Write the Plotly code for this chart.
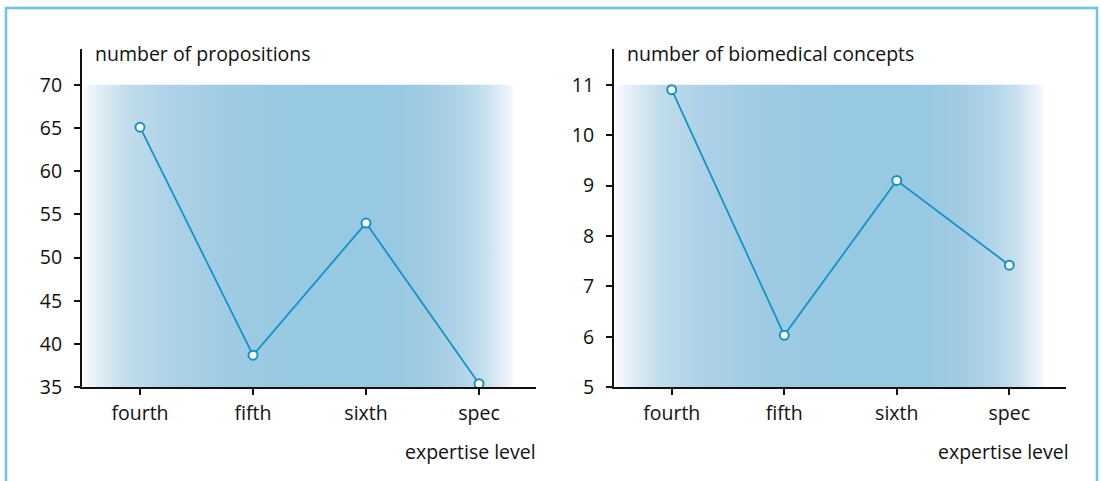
import plotly.graph_objects as go

categories = ["fourth", "fifth", "sixth", "spec"]
propositions = [65.1, 38.7, 54.0, 35.4]
concepts = [10.9, 6.03, 9.1, 7.42]
left_ticks = [35, 40, 45, 50, 55, 60, 65, 70]
right_ticks = [5, 6, 7, 8, 9, 10, 11]
left_title = "number of propositions"
right_title = "number of biomedical concepts"
x_title = "expertise level"

W, H = 1101, 481
HY = 469  # effective vertical pixel scale observed in the renderer
BLUE = "#1493c7"
INK = "#111111"
FONT = "Open Sans"
FS = 19.5

grad = [
    [0.0, "#f8fafd"], [0.05, "#dbeaf4"], [0.10, "#c2ddec"], [0.20, "#aed2e7"],
    [0.35, "#9dcbe3"], [0.5, "#98c9e2"], [0.72, "#98c9e2"], [0.80, "#a0cbe2"],
    [0.88, "#b1d4e8"], [0.94, "#cae1ee"], [0.98, "#e6f0f7"], [1.0, "#f6f8fc"],
]

xr = [-0.513, 3.504]
bg_x0, bg_x1 = -0.5, 3.3

fig = go.Figure()

panels = [
    dict(vals=propositions, ticks=left_ticks, top=74.16, xd=[82 / W, 536 / W],
         title=left_title, tx=96, ex=535, sfx=""),
    dict(vals=concepts, ticks=right_ticks, top=11.71, xd=[614 / W, 1066 / W],
         title=right_title, tx=628, ex=1068, sfx="2"),
]
ydom = [1 - 388 / HY, 1 - 49 / HY]

for i, p in enumerate(panels):
    xa = "x" + p["sfx"]
    ya = "y" + p["sfx"]
    lo, hi = min(p["ticks"]), max(p["ticks"])
    fig.add_trace(go.Scatter(
        x=[bg_x0, bg_x1, bg_x1, bg_x0, bg_x0], y=[lo, lo, hi, hi, lo],
        fill="toself", mode="lines", line=dict(width=0),
        fillgradient=dict(type="horizontal", colorscale=grad),
        hoverinfo="skip", showlegend=False, xaxis=xa, yaxis=ya))
    fig.add_trace(go.Scatter(
        x=list(range(len(categories))), y=p["vals"],
        mode="lines+markers", line=dict(color=BLUE, width=1.8),
        marker=dict(size=9, color="white", line=dict(color=BLUE, width=2)),
        cliponaxis=False, showlegend=False, xaxis=xa, yaxis=ya))

    n = i * 2
    xk = "xaxis" + ("" if i == 0 else "2")
    yk = "yaxis" + ("" if i == 0 else "2")
    ox = "xaxis" + str(3 + n)
    oy = "yaxis" + str(3 + n)
    common_x = dict(range=xr, domain=p["xd"], tickvals=list(range(len(categories))),
                    showgrid=False, zeroline=False, fixedrange=True)
    common_y = dict(range=[lo, p["top"]], domain=ydom, tickvals=p["ticks"],
                    showgrid=False, zeroline=False, fixedrange=True)
    fig.update_layout(**{
        xk: dict(**common_x, ticktext=categories, ticks="outside", ticklen=6,
                 tickwidth=1.5, tickcolor=INK, showline=True, linewidth=2,
                 linecolor=INK, anchor=ya, ticklabelstandoff=1,
                 tickfont=dict(family=FONT, size=FS, color=INK)),
        yk: dict(**common_y, ticks="outside", ticklen=6, tickwidth=1.5,
                 tickcolor=INK, showline=True, linewidth=2, linecolor=INK,
                 anchor=xa, ticklabelstandoff=8,
                 tickfont=dict(family=FONT, size=FS, color=INK)),
        ox: dict(**common_x, overlaying=xa, anchor=ya, ticks="inside", ticklen=6,
                 tickwidth=1.5, tickcolor=INK, showticklabels=False, showline=False),
        oy: dict(**common_y, overlaying=ya, anchor=xa, ticks="inside", ticklen=6,
                 tickwidth=1.5, tickcolor=INK, showticklabels=False, showline=False),
    })
    fig.add_annotation(x=p["tx"] / W, y=1 - 54 / HY, xref="paper", yref="paper",
                       text=p["title"], showarrow=False, xanchor="left",
                       yanchor="middle", xshift=-3, font=dict(family=FONT, size=FS, color=INK))
    fig.add_annotation(x=p["ex"] / W, y=1 - 452 / HY, xref="paper", yref="paper",
                       text=x_title, showarrow=False, xanchor="right",
                       yanchor="middle", xshift=3, font=dict(family=FONT, size=FS, color=INK))

fig.add_shape(type="rect", xref="paper", yref="paper", x0=6 / W, x1=1097 / W,
              y0=-0.2, y1=1 - 8 / HY, line=dict(color="#6ec3e3", width=2.5),
              fillcolor="rgba(0,0,0,0)", layer="below")

fig.update_layout(width=W, height=H, margin=dict(l=0, r=0, t=0, b=0),
                  paper_bgcolor="white", plot_bgcolor="rgba(0,0,0,0)",
                  font=dict(family=FONT, color=INK), showlegend=False)

fig.write_html("out.html", config={"displayModeBar": False},
               post_script="document.body.style.margin='0';document.body.style.overflow='hidden';")
